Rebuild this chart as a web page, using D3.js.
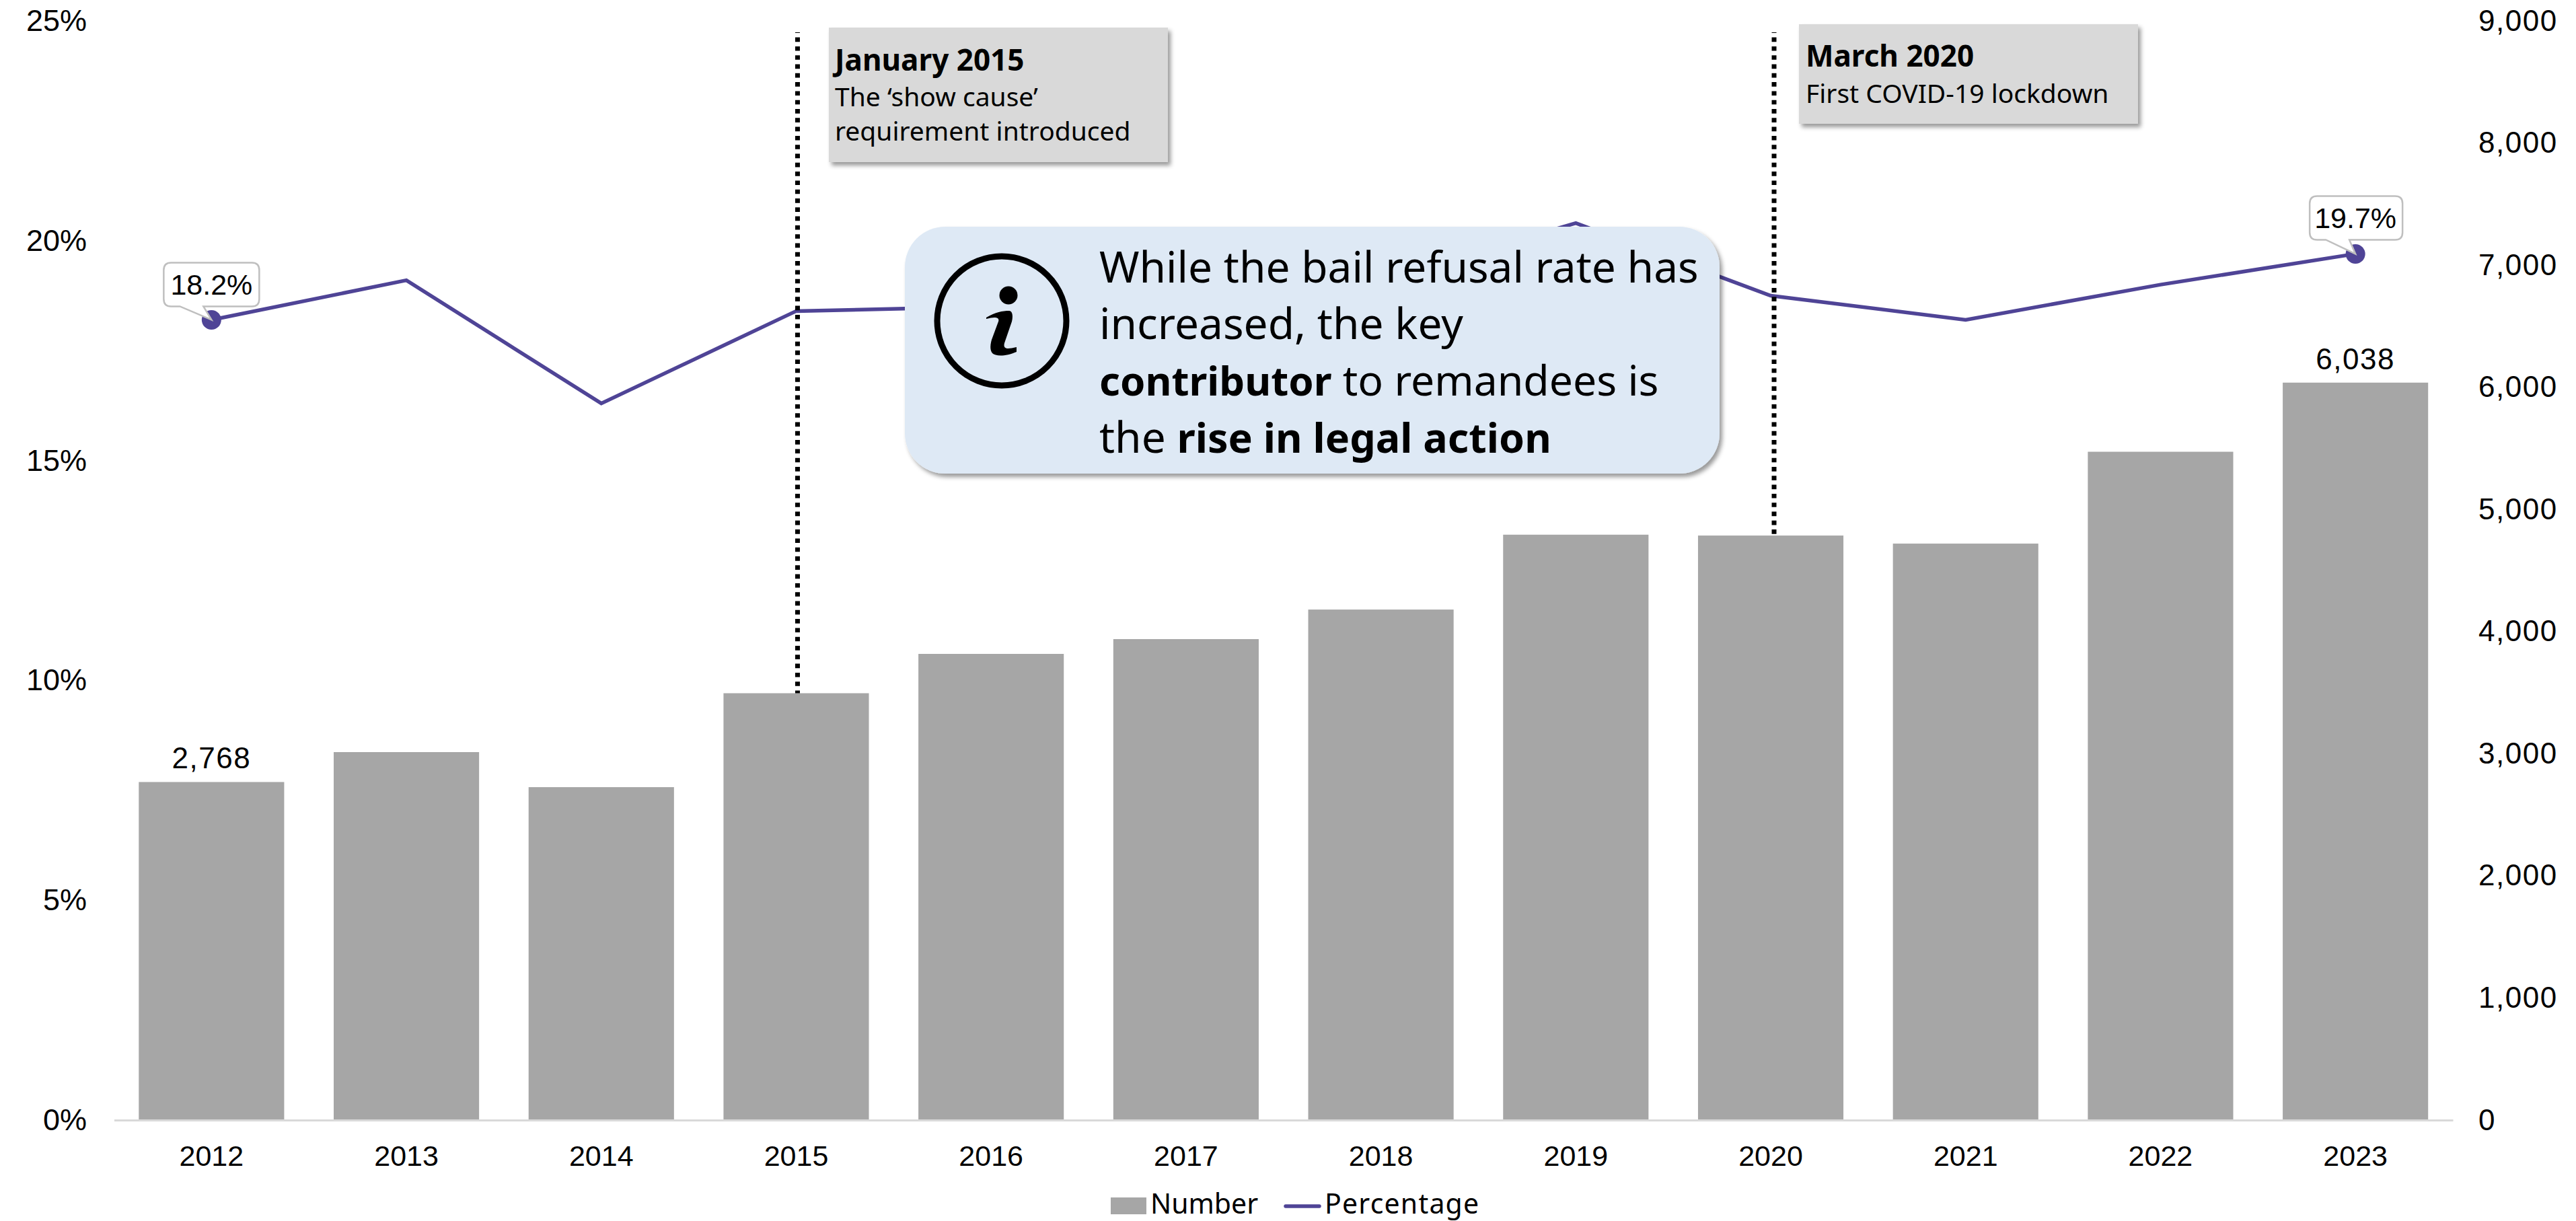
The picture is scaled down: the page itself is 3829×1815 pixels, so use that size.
<!DOCTYPE html>
<html><head><meta charset="utf-8">
<script src="https://cdn.jsdelivr.net/npm/d3@7/dist/d3.min.js"></script>
<style>html,body{margin:0;padding:0;background:#fff}svg{display:block}</style>
</head><body><div id="chart"></div>
<script>
const years=[2012,2013,2014,2015,2016,2017,2018,2019,2020,2021,2022,2023];
const numbers=[2768,3013,2726,3495,3817,3938,4180,4793,4786,4720,5472,6038];
const percentages=[18.2,19.1,16.3,18.4,18.5,18.8,19.1,20.4,18.75,18.2,19.0,19.7];
const pctTicks=[0,5,10,15,20,25];
const numTicks=[0,1000,2000,3000,4000,5000,6000,7000,8000,9000];
const labelledBars=[2012,2023];
const labelledPoints=[2012,2023];
const seriesNames=["Number","Percentage"];
const note2015=["January 2015","The ‘show cause’","requirement introduced"];
const note2020=["March 2020","First COVID-19 lockdown"];

const W=3829,H=1815,plotLeft=169.5,plotRight=3646,plotTop=31,base=1665;
const tickFont='"Liberation Sans",Arial,sans-serif', noteFont='"Noto Sans",sans-serif';
const barColor="#A6A6A6",lineColor="#4F4496";

const svg=d3.select("#chart").append("svg").attr("width",W).attr("height",H).attr("viewBox",`0 0 ${W} ${H}`);
const defs=svg.append("defs");
const sh=defs.append("filter").attr("id","sh").attr("x","-5%").attr("y","-5%").attr("width","112%").attr("height","115%");
sh.append("feDropShadow").attr("dx",4).attr("dy",5).attr("stdDeviation",3).attr("flood-color","#000").attr("flood-opacity",.4);

const x=d3.scaleBand().domain(years).range([plotLeft,plotRight]).paddingInner(.254).paddingOuter(.127);
const yN=d3.scaleLinear().domain([0,9000]).range([base,plotTop]);
const yP=d3.scaleLinear().domain([0,25]).range([base,plotTop]);
const cx=y=>x(y)+x.bandwidth()/2;

// bars
svg.append("g").selectAll("rect").data(years).join("rect")
 .attr("x",d=>x(d)).attr("width",x.bandwidth())
 .attr("y",(d,i)=>yN(numbers[i])).attr("height",(d,i)=>base-yN(numbers[i]))
 .attr("fill",barColor);

// axes
const xAxis=svg.append("g").attr("transform",`translate(0,${base})`).call(d3.axisBottom(x).tickSize(0).tickPadding(37).tickFormat(d3.format("d")));
const lAxis=svg.append("g").attr("transform",`translate(129,0)`).call(d3.axisLeft(yP).tickValues(pctTicks).tickSize(0).tickPadding(0).tickFormat(d=>d+"%"));
const rAxis=svg.append("g").attr("transform",`translate(3684,0)`).call(d3.axisRight(yN).tickValues(numTicks).tickSize(0).tickPadding(0).tickFormat(d3.format(",")));
[xAxis,lAxis,rAxis].forEach(a=>a.selectAll("text").attr("font-family",tickFont).attr("fill","#000"));
xAxis.selectAll("text").attr("font-size",43);
lAxis.selectAll("text").attr("font-size",45);
rAxis.selectAll("text").attr("font-size",44).attr("letter-spacing",1.5);
lAxis.select(".domain").remove(); rAxis.select(".domain").remove();
xAxis.select(".domain").attr("stroke","#D9D9D9").attr("stroke-width",3);

// line
const lineGen=d3.line().x((d,i)=>cx(years[i])).y(d=>yP(d));
svg.append("path").datum(percentages).attr("d",lineGen).attr("fill","none").attr("stroke",lineColor).attr("stroke-width",5.5).attr("stroke-linejoin","miter");

// end markers
svg.append("g").selectAll("circle").data(labelledPoints).join("circle")
 .attr("cx",cx).attr("cy",d=>yP(percentages[years.indexOf(d)])).attr("r",14.5).attr("fill",lineColor);

// callouts
labelledPoints.forEach(yr=>{
  const v=percentages[years.indexOf(yr)],px=cx(yr),py=yP(v);
  const first=yr===years[0];
  const bw=first?142:138,bh=65,r=11;
  const bl=px-(first?71:68),bt=py-(first?85:86),br=bl+bw,bb=bt+bh;
  const p1=px-(first?47:44),p2=px-(first?12:9);
  svg.append("path").attr("d",`M${bl+r},${bt}H${br-r}Q${br},${bt} ${br},${bt+r}V${bb-r}Q${br},${bb} ${br-r},${bb}H${p2}L${px},${py}L${p1},${bb}H${bl+r}Q${bl},${bb} ${bl},${bb-r}V${bt+r}Q${bl},${bt} ${bl+r},${bt}Z`)
   .attr("fill","#fff").attr("stroke","#BFBFBF").attr("stroke-width",2.5);
  svg.append("text").attr("x",px).attr("y",bt+48).attr("text-anchor","middle").attr("font-family",tickFont).attr("font-size",43).text(v.toFixed(1)+"%");
});

// bar labels
svg.append("g").selectAll("text").data(labelledBars).join("text")
 .attr("x",cx).attr("y",d=>yN(numbers[years.indexOf(d)])-20).attr("text-anchor","middle")
 .attr("font-family",tickFont).attr("font-size",44).attr("letter-spacing",1.5).text(d=>d3.format(",")(numbers[years.indexOf(d)]));

// event lines
[[2015,numbers[years.indexOf(2015)],2],[2020,numbers[years.indexOf(2020)],5]].forEach(([yr,val,off])=>{
  svg.append("line").attr("x1",cx(yr)+off).attr("x2",cx(yr)+off).attr("y1",48).attr("y2",yN(val))
   .attr("stroke","#000").attr("stroke-width",7).attr("stroke-dasharray","6.65 6.65").attr("stroke-dashoffset",5.7);
});

// event notes
function drawNote(lines,bx,by,bw,bh,tx,baselines){
  svg.append("rect").attr("x",bx).attr("y",by).attr("width",bw).attr("height",bh).attr("fill","#D9D9D9").attr("filter","url(#sh)");
  lines.forEach((t,i)=>svg.append("text").attr("x",tx).attr("y",baselines[i]).attr("font-family",noteFont)
    .attr("font-size",i?39:44).attr("font-weight",i?400:700).attr("fill","#000").text(t));
}
drawNote(note2015,1232,41,504,200,1241,[105,158,209]);
drawNote(note2020,2674,36,504,148,2684,[99,153]);

// info box
svg.append("rect").attr("x",1345).attr("y",337).attr("width",1211).attr("height",367).attr("rx",60).attr("ry",60).attr("fill","#DEE9F5").attr("filter","url(#sh)");
svg.append("circle").attr("cx",1489).attr("cy",477).attr("r",96).attr("fill","none").attr("stroke","#000").attr("stroke-width",9);
svg.append("circle").attr("cx",1499).attr("cy",439).attr("r",13.5).attr("fill","#000");
svg.append("path").attr("d","M1466,472 C1480,464 1490,462 1500,462 C1505,462 1506,470 1504,478 L1493,510 C1491,518 1495,520 1511,516 L1511,523 C1495,530 1480,530 1475,525 C1471,520 1472,512 1474,505 L1484,478 C1486,472 1480,470 1466,474 Z").attr("fill","#000");
const infoLines=[[["While the bail refusal rate has",400,64]],[["increased, the key",400,64]],[["contributor",700,60],[" to remandees is",400,62.5]],[["the ",400,64],["rise in legal action",700,61]]];
infoLines.forEach((segs,i)=>{
  const t=svg.append("text").attr("x",1634).attr("y",420+i*84.2).attr("font-family",noteFont).attr("font-size",64).attr("xml:space","preserve").attr("fill","#000");
  segs.forEach(s=>t.append("tspan").attr("font-weight",s[1]).attr("font-size",s[2]).text(s[0]));
});

// legend
svg.append("rect").attr("x",1651).attr("y",1780).attr("width",53).attr("height",25).attr("fill",barColor);
svg.append("line").attr("x1",1911).attr("x2",1961).attr("y1",1793).attr("y2",1793).attr("stroke",lineColor).attr("stroke-width",5.5).attr("stroke-linecap","round");
[[1710,seriesNames[0],0],[1969,seriesNames[1],1.2]].forEach(([lx,t,ls])=>svg.append("text").attr("x",lx).attr("y",1804).attr("font-family",noteFont).attr("font-size",41).attr("letter-spacing",ls).attr("fill","#000").text(t));
</script></body></html>
